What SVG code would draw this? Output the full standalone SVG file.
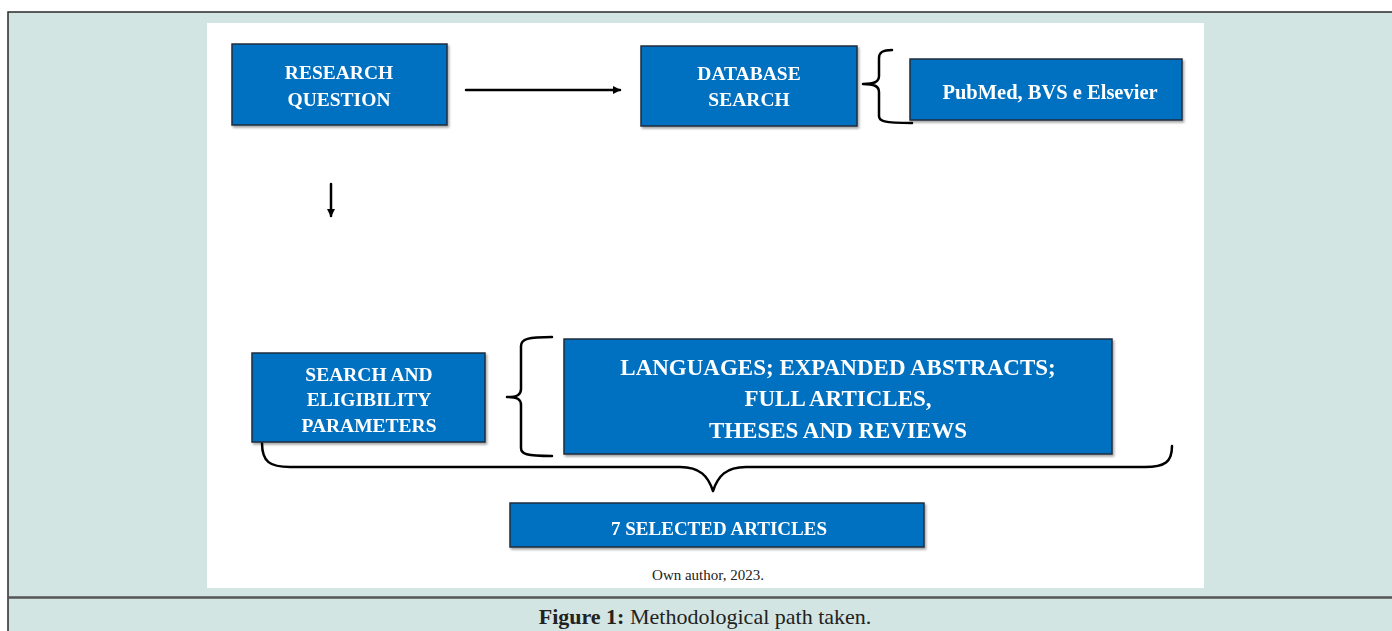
<svg xmlns="http://www.w3.org/2000/svg" width="1392" height="631" viewBox="0 0 1392 631">
<defs>
<style>
.box{fill:#0070c0;stroke:#1f2d3d;stroke-width:1.5}
.t{font-family:"Liberation Serif",serif;font-weight:bold;fill:#ffffff;text-anchor:middle}
.ln{fill:none;stroke:#000;stroke-width:2.5;stroke-linecap:round;stroke-linejoin:round}
</style>
<marker id="ah" markerWidth="8" markerHeight="8" refX="7" refY="4" orient="auto" markerUnits="userSpaceOnUse" viewBox="0 0 8 8">
<path d="M0,0 L8,4 L0,8 z" fill="#000"/>
</marker>
<filter id="sh" x="-5%" y="-5%" width="112%" height="120%">
<feDropShadow dx="1.5" dy="2" stdDeviation="1.2" flood-color="#000" flood-opacity="0.35"/>
</filter>
</defs>
<rect x="0" y="0" width="1392" height="631" fill="#ffffff"/>
<rect x="8" y="12" width="1390" height="625" fill="#d2e5e3" stroke="#2a2a2a" stroke-width="1.5"/>
<rect x="207" y="23" width="997" height="565" fill="#ffffff"/>
<line x1="8" y1="597.5" x2="1392" y2="597.5" stroke="#555" stroke-width="2.5"/>
<text x="705" y="624" font-family="'Liberation Serif',serif" font-size="22" fill="#222" text-anchor="middle"><tspan font-weight="bold">Figure 1:</tspan> Methodological path taken.</text>

<g id="connectors">
<line class="ln" x1="466" y1="90" x2="620" y2="90" marker-end="url(#ah)"/>
<line class="ln" x1="331" y1="184" x2="331" y2="216" marker-end="url(#ah)"/>
<path class="ln" d="M892,50 C883,50 879,52 879,58 L879,76 C879,82 874,84 863,84 C874,84 879,86 879,92 L879,116 C879,121 883,123 912,123"/>
<path class="ln" d="M552,337 C528,337 521,339 521,346 L521,389 C521,395 517,397 507,397 C517,397 521,399 521,405 L521,448 C521,454 526,456 552,456"/>
<path class="ln" d="M262,443 C262,462 270,467 290,467 L680,467 C700,467 708,476 713,491 C718,476 726,467 746,467 L1145,467 C1165,467 1172,462 1172,446"/>
</g>

<g id="n1" filter="url(#sh)">
<rect class="box" x="232" y="44" width="215" height="81"/>
<text class="t" x="339" y="79" font-size="19.5">RESEARCH</text>
<text class="t" x="339" y="106" font-size="19.5">QUESTION</text>
</g>
<g id="n2" filter="url(#sh)">
<rect class="box" x="641" y="46" width="216" height="80"/>
<text class="t" x="749" y="80" font-size="19.5">DATABASE</text>
<text class="t" x="749" y="106" font-size="19.5">SEARCH</text>
</g>
<g id="n3" filter="url(#sh)">
<rect class="box" x="910" y="59" width="272" height="61"/>
<text class="t" x="1050" y="99" font-size="20.5">PubMed, BVS e Elsevier</text>
</g>
<g id="n4" filter="url(#sh)">
<rect class="box" x="252" y="353" width="233" height="89"/>
<text class="t" x="369" y="381" font-size="19.5">SEARCH AND</text>
<text class="t" x="369" y="406" font-size="19.5">ELIGIBILITY</text>
<text class="t" x="369" y="432" font-size="19.5">PARAMETERS</text>
</g>
<g id="n5" filter="url(#sh)">
<rect class="box" x="564" y="339" width="548" height="115"/>
<text class="t" x="838" y="375" font-size="23">LANGUAGES; EXPANDED ABSTRACTS;</text>
<text class="t" x="838" y="406" font-size="23">FULL ARTICLES,</text>
<text class="t" x="838" y="438" font-size="23">THESES AND REVIEWS</text>
</g>
<g id="n6" filter="url(#sh)">
<rect class="box" x="510" y="503" width="414" height="44"/>
<text class="t" x="719" y="535" font-size="19" textLength="216" lengthAdjust="spacingAndGlyphs">7 SELECTED ARTICLES</text>
</g>
<text x="708" y="580" font-family="'Liberation Serif',serif" font-size="15" fill="#222" text-anchor="middle">Own author, 2023.</text>
</svg>
